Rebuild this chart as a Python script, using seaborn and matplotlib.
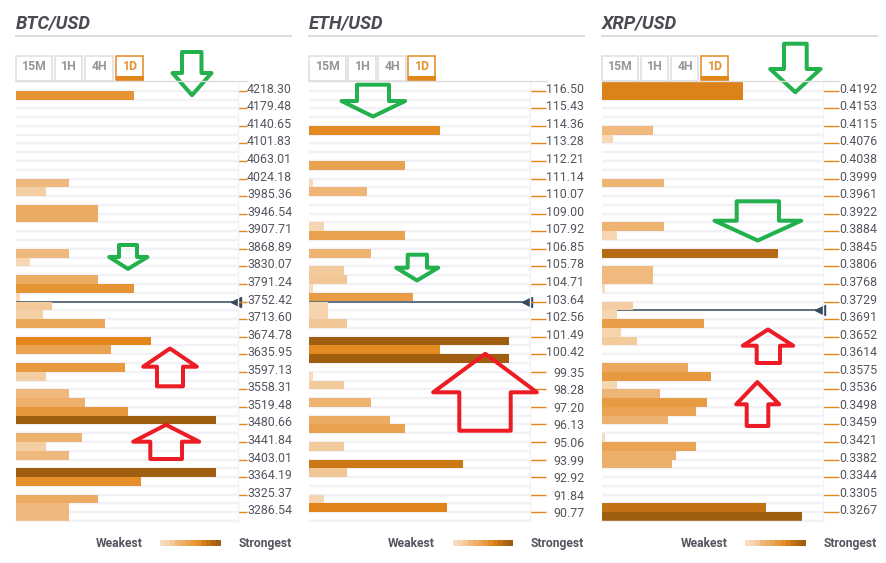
import numpy as np
import pandas as pd
import matplotlib
matplotlib.use("Agg")
import matplotlib.pyplot as plt
from matplotlib.colors import LinearSegmentedColormap, to_hex
from matplotlib.patches import Polygon, Rectangle
from matplotlib.transforms import ScaledTranslation
import seaborn as sns

plt.rcParams["font.family"] = "Roboto"

pairs = ["BTC/USD", "ETH/USD", "XRP/USD"]
timeframes = ["15M", "1H", "4H", "1D"]

btc_levels = ["4218.30","4179.48","4140.65","4101.83","4063.01","4024.18","3985.36","3946.54",
              "3907.71","3868.89","3830.07","3791.24","3752.42","3713.60","3674.78","3635.95",
              "3597.13","3558.31","3519.48","3480.66","3441.84","3403.01","3364.19","3325.37","3286.54"]
eth_levels = ["116.50","115.43","114.36","113.28","112.21","111.14","110.07","109.00","107.92",
              "106.85","105.78","104.71","103.64","102.56","101.49","100.42","99.35","98.28",
              "97.20","96.13","95.06","93.99","92.92","91.84","90.77"]
xrp_levels = ["0.4192","0.4153","0.4115","0.4076","0.4038","0.3999","0.3961","0.3922","0.3884",
              "0.3845","0.3806","0.3768","0.3729","0.3691","0.3652","0.3614","0.3575","0.3536",
              "0.3498","0.3459","0.3421","0.3382","0.3344","0.3305","0.3267"]

btc_rows = [1,11,12,14,15,19,20,22,23,24,25,26,27,29,30,32,33,35,36,37,38,40,41,42,44,45,47,48,49]
btc_strength = [118,53,30,82,82,53,14,82,118,4,36,27,89,135,95,109,30,53,69,112,200,66,30,53,200,125,82,53,53]

eth_rows = [5,9,11,12,16,17,19,21,22,23,24,25,26,27,29,30,31,33,34,36,38,39,41,43,44,47,48]
eth_strength = [131,96,4,58,15,96,62,35,38,4,104,19,19,38,200,131,200,4,35,62,81,96,35,154,38,15,138]

xrp_rows = [0,1,5,6,11,16,17,19,21,22,23,25,26,27,28,29,32,33,34,35,36,37,38,40,41,42,43,48,49]
xrp_strength = [141,141,51,11,62,62,15,176,51,51,3,31,15,102,19,35,86,109,15,58,105,94,66,3,94,74,70,164,200]

legend_steps = [1,2,3,4,5,6,7,8,9,10,11,12]

ROWS = 50
strength_cmap = LinearSegmentedColormap.from_list(
    "confluence",
    [(0.0, "#f8dcc0"), (0.15, "#f4cfa3"), (0.27, "#efb779"), (0.42, "#ebaa60"),
     (0.50, "#e89f4a"), (0.60, "#e69232"), (0.68, "#e3861b"), (0.77, "#cc7716"),
     (0.88, "#b56a13"), (1.0, "#a05e10")])
TEXT = "#55555f"
ORANGE = "#e3861b"
PX = 72 / 100

fig = plt.figure(figsize=(8.87, 5.63), dpi=100, facecolor="white")
W, H = 887, 563


def panel_axes(left, width):
    return fig.add_axes([left / W, 1 - 521 / H, width / W, 439 / H])


def draw_panel(left, width, rows, strengths, levels, price_boundary, tick_gap):
    ax = panel_axes(left, width)
    df = pd.DataFrame({"row": rows, "strength": strengths})
    palette = {v: to_hex(strength_cmap(v / 200)) for v in df["strength"].unique()}
    ax.set_axisbelow(True)
    ax.hlines(np.arange(ROWS) + 0.5, 0, width, color="#f1f1f7", lw=2.4 * PX, zorder=0)
    ax.plot([0, width], [price_boundary - 0.5] * 2, color="#34495e", lw=1.5 * PX,
            zorder=0.5, solid_capstyle="butt")
    ax.plot([width - 2.5], [price_boundary - 0.5], marker="<", ms=6.5, color="#34495e",
            zorder=0.5, clip_on=False)
    sns.barplot(data=df, x="strength", y="row", hue="strength", palette=palette,
                order=list(range(ROWS)), orient="h", width=1.0, dodge=False,
                legend=False, saturation=1, ax=ax, linewidth=0, zorder=1)
    ax.set_xlim(0, width)
    ax.set_ylim(ROWS - 0.5, -0.5)
    ax.set_xlabel("")
    ax.set_ylabel("")
    ax.set_xticks([])
    ax.set_yticks(np.arange(len(levels)) * 2 + 0.5)
    ax.set_yticklabels(levels)
    ax.yaxis.tick_right()
    ax.tick_params(axis="y", length=tick_gap * PX, width=1.4 * PX, color=ORANGE,
                   labelcolor=TEXT, labelsize=8.9, pad=0)
    offset = ScaledTranslation(0, 3 / 100, fig.dpi_scale_trans)
    for tick, text in zip(ax.yaxis.get_major_ticks(), levels):
        lab = tick.label2
        lab.set_transform(lab.get_transform() + offset)
        if tick_gap > 10 and len(text) == 5:
            tick.tick2line.set_markersize((tick_gap + 7) * PX)
            tick.set_pad(7 * PX)
    for name, spine in ax.spines.items():
        spine.set_color("#f1f1f6")
        spine.set_linewidth(1.4 * PX)
        spine.set_visible(name in ("right", "bottom"))
    return ax


axes = [
    draw_panel(16, 222, btc_rows, btc_strength, btc_levels, 25, 9),
    draw_panel(309, 221, eth_rows, eth_strength, eth_levels, 25, 16),
    draw_panel(602, 221, xrp_rows, xrp_strength, xrp_levels, 26, 16),
]

ov = fig.add_axes([0, 0, 1, 1], zorder=10)
ov.set_xlim(0, W)
ov.set_ylim(H, 0)
ov.axis("off")
ov.patch.set_alpha(0)

headers = [(16, 291, 247), (309, 584, 547), (602, 877, 839)]
tab_sets = [
    [(16, 53), (55, 83), (85, 114), (116, 144)],
    [(309, 347), (348, 377), (378, 407), (408, 436)],
    [(602, 639), (641, 669), (671, 699), (701, 729)],
]
for title, (x0, x1, topend), tabs in zip(pairs, headers, tab_sets):
    ov.text(x0, 23, title, fontsize=13.2, fontweight="bold", style="italic",
            color="#4a4a52", va="center", ha="left")
    ov.plot([x0, x1], [35.5, 35.5], color="#dddddd", lw=2 * PX)
    ov.plot([x0, topend], [81.3, 81.3], color="#dddddd", lw=1.4 * PX)
    for label, (a, b) in zip(timeframes, tabs):
        active = label == "1D"
        ov.add_patch(Rectangle((a + .5, 55.5), b - a - 1, 25.5, fill=True, fc="white",
                               ec=ORANGE if active else "#dddddd", lw=1.5 * PX))
        if active:
            ov.add_patch(Rectangle((a, 76), b - a, 5, fc=ORANGE, ec="none"))
        ov.text((a + b) / 2, 66.8, label, fontsize=8.8, fontweight="bold", ha="center",
                va="center", color=ORANGE if active else "#88888f", alpha=0.9)

legends = [(143, 160, 221, 239), (435, 453, 513, 531), (728, 745, 806, 824)]
legend_values = np.array(legend_steps, dtype=float)
legend_cmap = [to_hex(strength_cmap((v - 1) / (len(legend_steps) - 1))) for v in legend_steps]
for wk, s0, s1, st in legends:
    ov.text(wk, 543.5, "Weakest", fontsize=8.7, fontweight="bold", color=TEXT, ha="right", va="center")
    ov.text(st, 543.5, "Strongest", fontsize=8.7, fontweight="bold", color=TEXT, ha="left", va="center")
    lax = fig.add_axes([s0 / W, 1 - 545.5 / H, (s1 - s0) / W, 5.5 / H])
    sns.heatmap(legend_values.reshape(1, -1), cmap=legend_cmap, cbar=False, ax=lax,
                xticklabels=False, yticklabels=False, linewidths=0, rasterized=True)

GREEN = "#22b14c"
RED = "#ed1c24"


def arrow(tip_x, tip_y, head_y, left, right, sh_l, sh_r, end_y, color):
    # outer extents of a hollow outline arrow, in image pixels; inset for the stroke
    s = 1 if end_y < tip_y else -1  # s=1: pointing down
    i = 2.0
    pts = [(tip_x, tip_y - s * 2.8), (right - 2.5, head_y), (sh_r - i, head_y),
           (sh_r - i, end_y + s * i), (sh_l + i, end_y + s * i), (sh_l + i, head_y),
           (left + 2.5, head_y)]
    ov.add_patch(Polygon(pts, closed=True, fill=False, ec=color, lw=4.0 * PX, joinstyle="round"))


arrows = [
    (192, 98, 73, 170, 214, 180, 203.5, 50, GREEN),
    (128, 271.7, 257, 106.7, 150, 117, 139, 243, GREEN),
    (170, 345.7, 366.7, 140.7, 199.3, 155, 185, 388.3, RED),
    (166, 422, 441.7, 130.7, 201.7, 148.3, 184, 461, RED),
    (373, 119.3, 101, 339, 407.7, 355, 391, 82.7, GREEN),
    (417, 283.3, 267.7, 393.7, 440.7, 405.7, 429, 252.7, GREEN),
    (485.3, 351, 392.3, 430.7, 539.3, 457.3, 512.7, 432.7, RED),
    (795.3, 95, 69, 767.7, 823, 782, 808.7, 41.7, GREEN),
    (757.7, 243.3, 220.7, 712, 803.7, 734.7, 781, 199.3, GREEN),
    (768, 326.7, 345.7, 740.3, 795.7, 754.7, 782, 365, RED),
    (757.3, 379.3, 404.3, 733.7, 781.7, 744.7, 770.3, 428, RED),
]
for a in arrows:
    arrow(*a)

fig.savefig("out.png", dpi=100, facecolor="white")
